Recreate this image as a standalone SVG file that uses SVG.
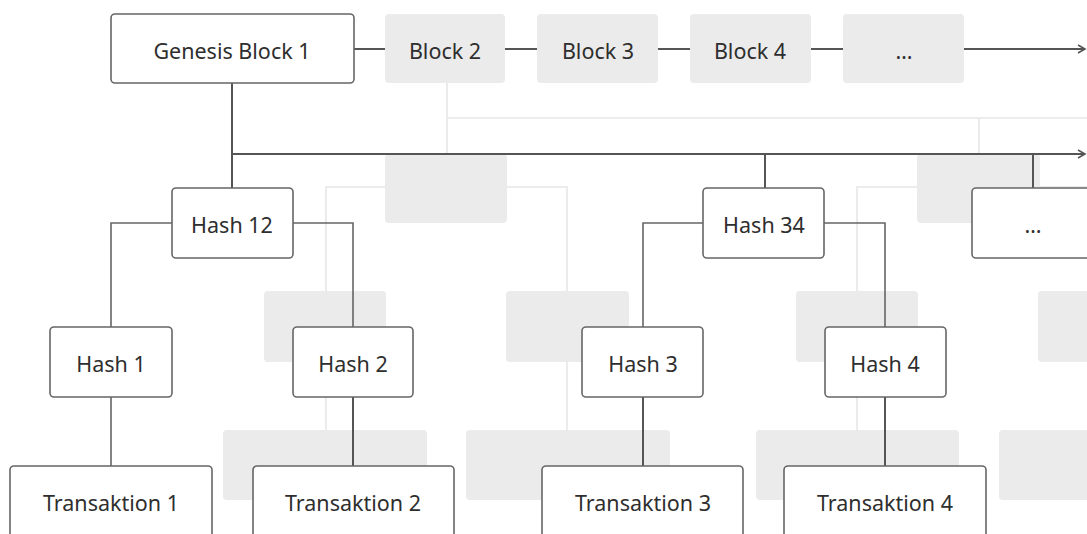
<svg xmlns="http://www.w3.org/2000/svg" width="1087" height="534" viewBox="0 0 1087 534">
  <style>
    .node rect { fill: #ffffff; stroke: #666666; stroke-width: 1.6; }
    .block rect { fill: #ebebeb; stroke: none; }
    .ghost { fill: #ebebeb; stroke: none; }
    .ghost-line { fill: none; stroke: #e6e6e6; stroke-width: 1.6; }
    .link { fill: none; stroke: #555555; stroke-width: 2; }
    .branch { fill: none; stroke: #666666; stroke-width: 1.6; }
    text { font-family: "Noto Sans", "Open Sans", sans-serif; font-size: 21.5px; fill: #2e2e2e; text-anchor: middle; }
  </style>
  <defs>
    <marker id="arrow" markerWidth="10" markerHeight="10" refX="8" refY="5" orient="auto" markerUnits="userSpaceOnUse">
      <path d="M1,1 L8,5 L1,9" fill="none" stroke="#555555" stroke-width="1.6"/>
    </marker>
  </defs>

  <!-- faded background chain -->
  <g id="background">
    <path class="ghost-line" d="M447,83 V154 M447,118 H1087 M979,118 V154"/>
    <path class="ghost-line" d="M385,187 H326 V291 M326,362 V430 M507,187 H567 V291 M567,362 V430"/>
    <path class="ghost-line" d="M917,187 H857 V291 M857,362 V430 M1040,187 H1099 V291"/>
    <rect class="ghost" x="385" y="154" width="122" height="69" rx="4"/>
    <rect class="ghost" x="264" y="291" width="122" height="71" rx="4"/>
    <rect class="ghost" x="506" y="291" width="123" height="71" rx="4"/>
    <rect class="ghost" x="223" y="430" width="204" height="70" rx="4"/>
    <rect class="ghost" x="466" y="430" width="204" height="70" rx="4"/>
    <rect class="ghost" x="917" y="154" width="123" height="69" rx="4"/>
    <rect class="ghost" x="796" y="291" width="122" height="71" rx="4"/>
    <rect class="ghost" x="1038" y="291" width="122" height="71" rx="4"/>
    <rect class="ghost" x="756" y="430" width="203" height="70" rx="4"/>
    <rect class="ghost" x="999" y="430" width="204" height="70" rx="4"/>
  </g>

  <!-- connectors -->
  <g id="connectors">
    <path class="link" d="M354,49 H385 M505,49 H537 M658,49 H690 M811,49 H843"/>
    <path class="link" d="M964,49 H1085" marker-end="url(#arrow)"/>
    <path class="link" d="M232,83 V188 M232,154 H1085" marker-end="url(#arrow)"/>
    <path class="link" d="M765,154 V188 M1033,154 V188"/>
    <path class="branch" d="M172,223 H111 V327 M293,223 H353 V327 M111,397 V466"/>
    <path class="link" d="M353,397 V466"/>
    <path class="branch" d="M703,223 H643 V327 M824,223 H885 V327"/>
    <path class="link" d="M643,397 V466 M885,397 V466"/>
  </g>

  <!-- chain blocks -->
  <g id="genesis" class="node"><rect x="111" y="14" width="243" height="69" rx="4"/><text x="232" y="59">Genesis Block 1</text></g>
  <g id="block2" class="block"><rect x="385" y="14" width="120" height="69" rx="4"/><text x="445" y="59">Block 2</text></g>
  <g id="block3" class="block"><rect x="537" y="14" width="121" height="69" rx="4"/><text x="598" y="59">Block 3</text></g>
  <g id="block4" class="block"><rect x="690" y="14" width="121" height="69" rx="4"/><text x="750" y="59">Block 4</text></g>
  <g id="block-more" class="block"><rect x="843" y="14" width="121" height="69" rx="4"/><text x="904" y="59">…</text></g>

  <!-- hash tree -->
  <g id="hash12" class="node"><rect x="172" y="188" width="121" height="70" rx="4"/><text x="232" y="233">Hash 12</text></g>
  <g id="hash34" class="node"><rect x="703" y="188" width="121" height="70" rx="4"/><text x="764" y="233">Hash 34</text></g>
  <g id="hash-more" class="node"><rect x="972" y="188" width="122" height="70" rx="4"/><text x="1033" y="233">…</text></g>
  <g id="hash1" class="node"><rect x="50" y="327" width="122" height="70" rx="4"/><text x="111" y="372">Hash 1</text></g>
  <g id="hash2" class="node"><rect x="293" y="327" width="120" height="70" rx="4"/><text x="353" y="372">Hash 2</text></g>
  <g id="hash3" class="node"><rect x="582" y="327" width="121" height="70" rx="4"/><text x="643" y="372">Hash 3</text></g>
  <g id="hash4" class="node"><rect x="825" y="327" width="121" height="70" rx="4"/><text x="885" y="372">Hash 4</text></g>

  <!-- transactions -->
  <g id="tx1" class="node"><rect x="10" y="466" width="202" height="72" rx="4"/><text x="111" y="511">Transaktion 1</text></g>
  <g id="tx2" class="node"><rect x="253" y="466" width="201" height="72" rx="4"/><text x="353" y="511">Transaktion 2</text></g>
  <g id="tx3" class="node"><rect x="542" y="466" width="201" height="72" rx="4"/><text x="643" y="511">Transaktion 3</text></g>
  <g id="tx4" class="node"><rect x="784" y="466" width="202" height="72" rx="4"/><text x="885" y="511">Transaktion 4</text></g>
</svg>
